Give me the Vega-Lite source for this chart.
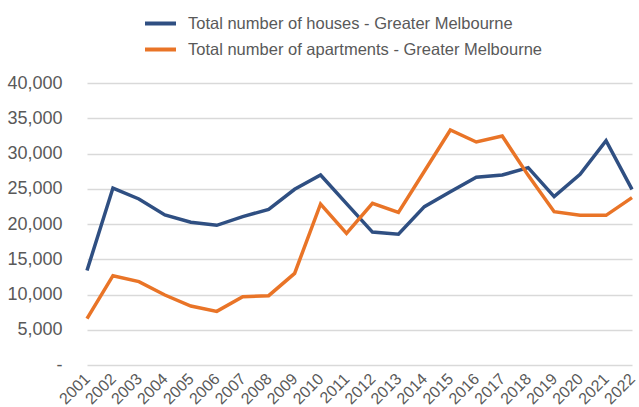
{
  "$schema": "https://vega.github.io/schema/vega-lite/v6.json",
  "width": 564,
  "height": 282,
  "autosize": {"type": "none"},
  "padding": {"left": 75, "top": 83, "right": 0, "bottom": 42},
  "background": "white",
  "config": {"view": {"stroke": null}},
  "data": {"values": [
    {"year": "2001", "series": "Total number of houses - Greater Melbourne", "value": 13400},
    {"year": "2002", "series": "Total number of houses - Greater Melbourne", "value": 25100},
    {"year": "2003", "series": "Total number of houses - Greater Melbourne", "value": 23550},
    {"year": "2004", "series": "Total number of houses - Greater Melbourne", "value": 21280},
    {"year": "2005", "series": "Total number of houses - Greater Melbourne", "value": 20240},
    {"year": "2006", "series": "Total number of houses - Greater Melbourne", "value": 19810},
    {"year": "2007", "series": "Total number of houses - Greater Melbourne", "value": 21040},
    {"year": "2008", "series": "Total number of houses - Greater Melbourne", "value": 22080},
    {"year": "2009", "series": "Total number of houses - Greater Melbourne", "value": 24920},
    {"year": "2010", "series": "Total number of houses - Greater Melbourne", "value": 26950},
    {"year": "2011", "series": "Total number of houses - Greater Melbourne", "value": 22900},
    {"year": "2012", "series": "Total number of houses - Greater Melbourne", "value": 18850},
    {"year": "2013", "series": "Total number of houses - Greater Melbourne", "value": 18540},
    {"year": "2014", "series": "Total number of houses - Greater Melbourne", "value": 22460},
    {"year": "2015", "series": "Total number of houses - Greater Melbourne", "value": 24590},
    {"year": "2016", "series": "Total number of houses - Greater Melbourne", "value": 26620},
    {"year": "2017", "series": "Total number of houses - Greater Melbourne", "value": 26950},
    {"year": "2018", "series": "Total number of houses - Greater Melbourne", "value": 27990},
    {"year": "2019", "series": "Total number of houses - Greater Melbourne", "value": 23880},
    {"year": "2020", "series": "Total number of houses - Greater Melbourne", "value": 27050},
    {"year": "2021", "series": "Total number of houses - Greater Melbourne", "value": 31820},
    {"year": "2022", "series": "Total number of houses - Greater Melbourne", "value": 24920},
    {"year": "2001", "series": "Total number of apartments - Greater Melbourne", "value": 6570},
    {"year": "2002", "series": "Total number of apartments - Greater Melbourne", "value": 12670},
    {"year": "2003", "series": "Total number of apartments - Greater Melbourne", "value": 11820},
    {"year": "2004", "series": "Total number of apartments - Greater Melbourne", "value": 9930},
    {"year": "2005", "series": "Total number of apartments - Greater Melbourne", "value": 8370},
    {"year": "2006", "series": "Total number of apartments - Greater Melbourne", "value": 7610},
    {"year": "2007", "series": "Total number of apartments - Greater Melbourne", "value": 9690},
    {"year": "2008", "series": "Total number of apartments - Greater Melbourne", "value": 9830},
    {"year": "2009", "series": "Total number of apartments - Greater Melbourne", "value": 13000},
    {"year": "2010", "series": "Total number of apartments - Greater Melbourne", "value": 22840},
    {"year": "2011", "series": "Total number of apartments - Greater Melbourne", "value": 18680},
    {"year": "2012", "series": "Total number of apartments - Greater Melbourne", "value": 22930},
    {"year": "2013", "series": "Total number of apartments - Greater Melbourne", "value": 21650},
    {"year": "2014", "series": "Total number of apartments - Greater Melbourne", "value": 27490},
    {"year": "2015", "series": "Total number of apartments - Greater Melbourne", "value": 33330},
    {"year": "2016", "series": "Total number of apartments - Greater Melbourne", "value": 31630},
    {"year": "2017", "series": "Total number of apartments - Greater Melbourne", "value": 32480},
    {"year": "2018", "series": "Total number of apartments - Greater Melbourne", "value": 26900},
    {"year": "2019", "series": "Total number of apartments - Greater Melbourne", "value": 21750},
    {"year": "2020", "series": "Total number of apartments - Greater Melbourne", "value": 21230},
    {"year": "2021", "series": "Total number of apartments - Greater Melbourne", "value": 21230},
    {"year": "2022", "series": "Total number of apartments - Greater Melbourne", "value": 23740}
  ]},
  "mark": {"type": "line", "strokeWidth": 3.5, "strokeJoin": "miter"},
  "encoding": {
    "x": {
      "field": "year", "type": "ordinal",
      "scale": {"type": "point", "range": [12, 557], "padding": 0},
      "axis": {
        "title": null, "grid": false, "ticks": false,
        "domain": false,
        "labelAngle": -45, "labelAlign": "right", "labelBaseline": "middle",
        "labelFont": "Liberation Sans", "labelFontSize": 16, "labelColor": "#595959",
        "labelPadding": 11
      }
    },
    "y": {
      "field": "value", "type": "quantitative",
      "scale": {"domain": [0, 40000], "nice": false},
      "axis": {
        "title": null, "values": [0, 5000, 10000, 15000, 20000, 25000, 30000, 35000, 40000],
        "labelExpr": "datum.value == 0 ? '-' : format(datum.value, ',')",
        "domain": false, "ticks": false,
        "gridColor": "#d9d9d9", "gridWidth": 1.5,
        "labelFont": "Liberation Sans", "labelFontSize": 18, "labelColor": "#595959",
        "labelPadding": 13
      }
    },
    "color": {
      "field": "series", "type": "nominal",
      "sort": ["Total number of houses - Greater Melbourne", "Total number of apartments - Greater Melbourne"],
      "scale": {
        "domain": ["Total number of houses - Greater Melbourne", "Total number of apartments - Greater Melbourne"],
        "range": ["#2F4F82", "#E97427"]
      },
      "legend": {
        "title": null, "orient": "none", "legendX": 68, "legendY": -77,
        "direction": "vertical",
        "symbolType": "stroke", "symbolSize": 961, "symbolStrokeWidth": 4,
        "labelFont": "Liberation Sans", "labelFontSize": 16.5, "labelColor": "#595959",
        "labelOffset": 10, "rowPadding": -4, "labelLimit": 600, "padding": 0
      }
    }
  }
}
